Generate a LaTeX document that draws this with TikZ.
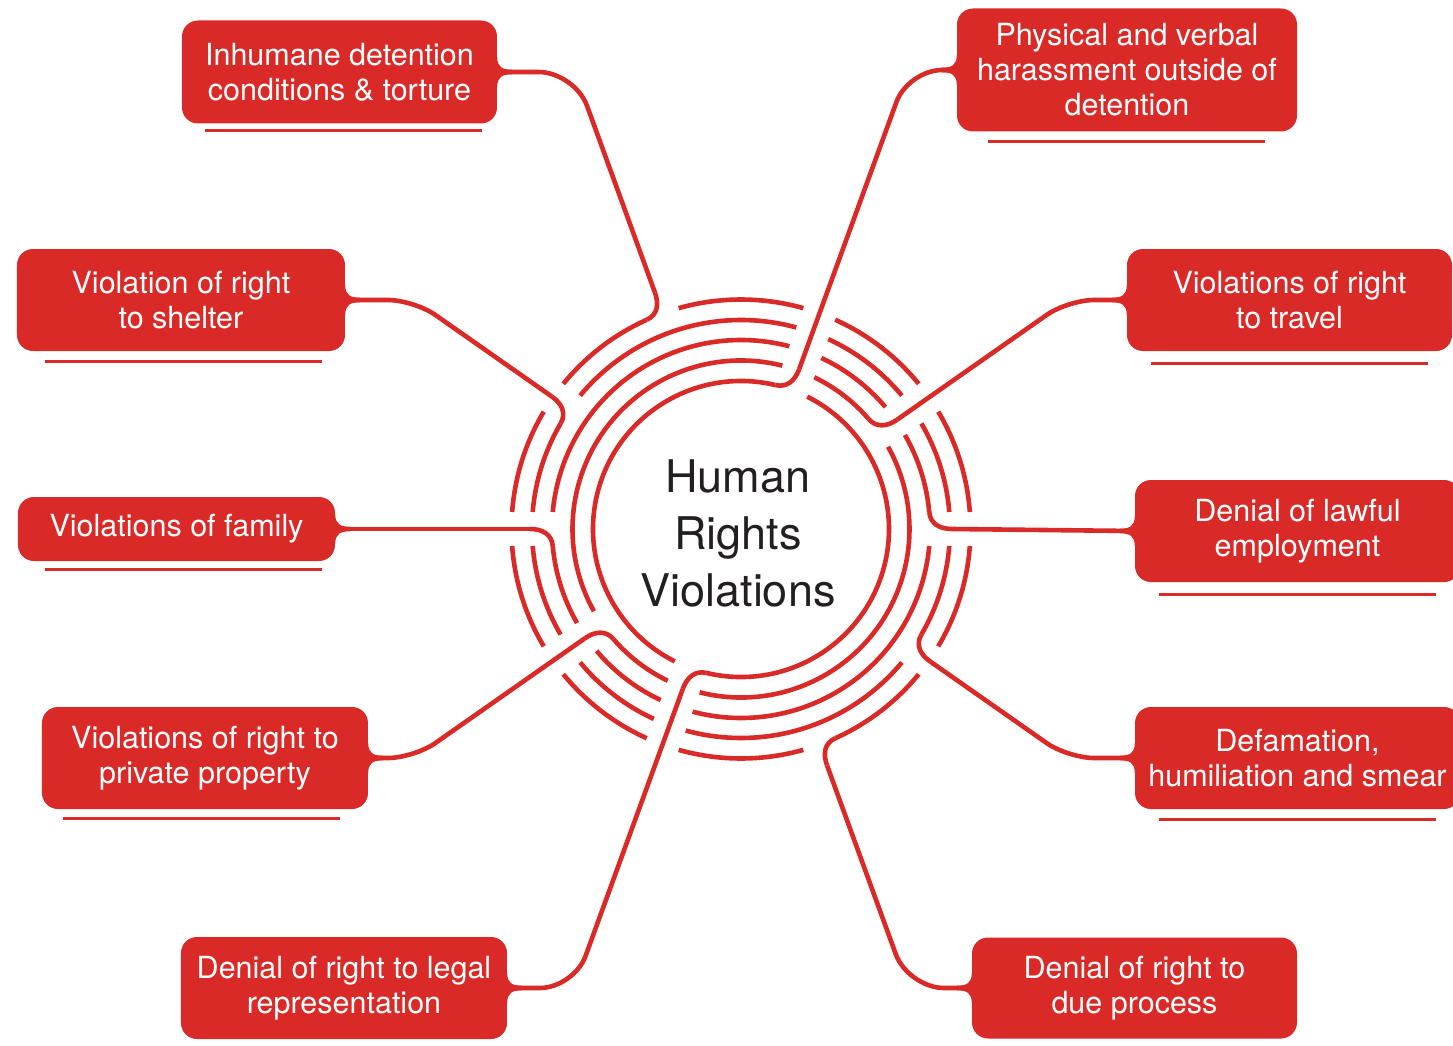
\documentclass[tikz,border=0pt]{standalone}
\usepackage{fontspec}
\setmainfont{TeX Gyre Heros}
\usetikzlibrary{calc}
\definecolor{hr}{RGB}{218,42,40}
\definecolor{ink}{RGB}{35,31,32}
\newcommand\mytab[2]{\fill[hr,shift={(#1)},xscale=#2] (-2,15) -- (0,15) .. controls (0,5) and (5,2.3) .. (15,2.3) -- (15,-2.3) .. controls (5,-2.3) and (0,-5) .. (0,-15) -- (-2,-15) -- cycle;}
\begin{document}
\begin{tikzpicture}[x=1pt,y=1pt,
  ringline/.style={draw=hr,line width=4.6pt},
  conn/.style={draw=hr,line width=4.6pt},
  lab/.style={fill=hr,rounded corners=16pt,text=white,font=\fontsize{30.5}{35}\selectfont,align=center,inner sep=0pt},
  uline/.style={draw=hr,line width=3pt}]
\useasboundingbox (-741,-516) rectangle (712,529);

% concentric ring pieces (radius / crossing start / crossing end)
\foreach \r/\a/\b in {148/70/250,148/250/430,168.5/35/70,168.5/70/215,168.5/215/250,168.5/250/395,189/0/35,189/35/70,189/70/180,189/180/215,189/215/250,189/250/360,209/-35/0,209/0/35,209/35/70,209/70/145,209/145/180,209/180/215,209/215/250,209/250/325,229.5/-70/-35,229.5/-35/0,229.5/0/35,229.5/35/70,229.5/70/110,229.5/110/145,229.5/145/180,229.5/180/215,229.5/215/250,229.5/250/290}
{\pgfmathsetmacro\dd{974.03/\r}
 \pgfmathsetmacro\sa{\a+\dd}
 \pgfmathsetmacro\ea{\b-\dd}
 \draw[ringline] (\sa:\r) arc[start angle=\sa, end angle=\ea, radius=\r];}

% centre text
\node[font=\fontsize{45}{57}\selectfont,text=ink,align=center,inner sep=0pt] (hrv) at (-3,-4) {Human\\Rights\\Violations};

% label boxes
\node[lab,minimum width=315pt,minimum height=103pt] (b1) at (-401.5,457) {Inhumane detention\\conditions \& torture};
\node[lab,minimum width=340pt,minimum height=123pt] (b2) at (386,459) {Physical and verbal\\harassment outside of\\detention};
\node[lab,minimum width=328pt,minimum height=102pt] (b3) at (-560,229) {Violation of right\\to shelter};
\node[lab,minimum width=325pt,minimum height=102pt] (b4) at (548.5,229) {Violations of right\\to travel};
\node[lab,minimum width=317pt,minimum height=64pt] (b5) at (-564.5,0) {Violations of family};
\node[lab,minimum width=325pt,minimum height=102pt] (b6) at (556.5,-2) {Denial of lawful\\employment};
\node[lab,minimum width=326pt,minimum height=102pt] (b7) at (-536,-229) {Violations of right to\\private property};
\node[lab,minimum width=325pt,minimum height=102pt] (b8) at (556.5,-229) {Defamation,\\humiliation and smear};
\node[lab,minimum width=326pt,minimum height=102pt] (b9) at (-397,-459) {Denial of right to legal\\representation};
\node[lab,minimum width=325pt,minimum height=101pt] (b10) at (393.5,-459) {Denial of right to\\due process};

% tabs
\mytab{b1.east}{1}
\mytab{b2.west}{-1}
\mytab{b3.east}{1}
\mytab{b4.west}{-1}
\mytab{b5.east}{1}
\mytab{b6.west}{-1}
\mytab{b7.east}{1}
\mytab{b8.west}{-1}
\mytab{b9.east}{1}
\mytab{b10.west}{-1}

% underlines
\draw[uline] (-536,398) -- (-259,398);
\draw[uline] (247,387) -- (524,387);
\draw[uline] (-696,168) -- (-419,168);
\draw[uline] (410,166) -- (687,166);
\draw[uline] (-696,-40) -- (-419,-40);
\draw[uline] (418,-65) -- (695,-65);
\draw[uline] (-678,-289) -- (-401,-289);
\draw[uline] (418,-290) -- (695,-290);

% connectors
\draw[conn,rounded corners=36pt] (b1.east) -- (-166.3,457) -- (110:251.5);
\draw[conn] (110:251.5) .. controls (110:239.5) and ($(114.24:229.5)+(24.24:12)$) .. (114.24:229.5);

\draw[conn,rounded corners=34pt] (b2.west) -- (167.1,459) -- (70:170);
\draw[conn] (70:170) .. controls (70:158) and ($(76.58:148)+(-13.42:12)$) .. (76.58:148);

\draw[conn,rounded corners=26pt] (b3.east) -- (-327,229) -- (145:231);
\draw[conn] (145:231) .. controls (145:219) and ($(149.66:209)+(59.66:12)$) .. (149.66:209);

\draw[conn,rounded corners=26pt] (b4.west) -- (327,229) -- (35:190.5);
\draw[conn] (35:190.5) .. controls (35:178.5) and ($(40.78:168.5)+(-49.22:12)$) .. (40.78:168.5);

\draw[conn] (b5.east) -- (180:211);
\draw[conn] (180:211) .. controls (180:199) and ($(185.15:189)+(95.15:12)$) .. (185.15:189);

\draw[conn] (b6.west) -- (0:211);
\draw[conn] (0:211) .. controls (0:199) and ($(5.15:189)+(-84.85:12)$) .. (5.15:189);

\draw[conn,rounded corners=26pt] (b7.east) -- (-327,-229) -- (215:190.5);
\draw[conn] (215:190.5) .. controls (215:178.5) and ($(220.78:168.5)+(130.78:12)$) .. (220.78:168.5);

\draw[conn,rounded corners=26pt] (b8.west) -- (327,-229) -- (-35:231);
\draw[conn] (-35:231) .. controls (-35:219) and ($(-30.34:209)+(-120.34:12)$) .. (-30.34:209);

\draw[conn,rounded corners=34pt] (b9.east) -- (-167.1,-459) -- (250:170);
\draw[conn] (250:170) .. controls (250:158) and ($(256.58:148)+(166.58:12)$) .. (256.58:148);

\draw[conn,rounded corners=36pt] (b10.west) -- (167.1,-459) -- (-70:251.5);
\draw[conn] (-70:251.5) .. controls (-70:239.5) and ($(-65.76:229.5)+(-155.76:12)$) .. (-65.76:229.5);
\end{tikzpicture}
\end{document}
